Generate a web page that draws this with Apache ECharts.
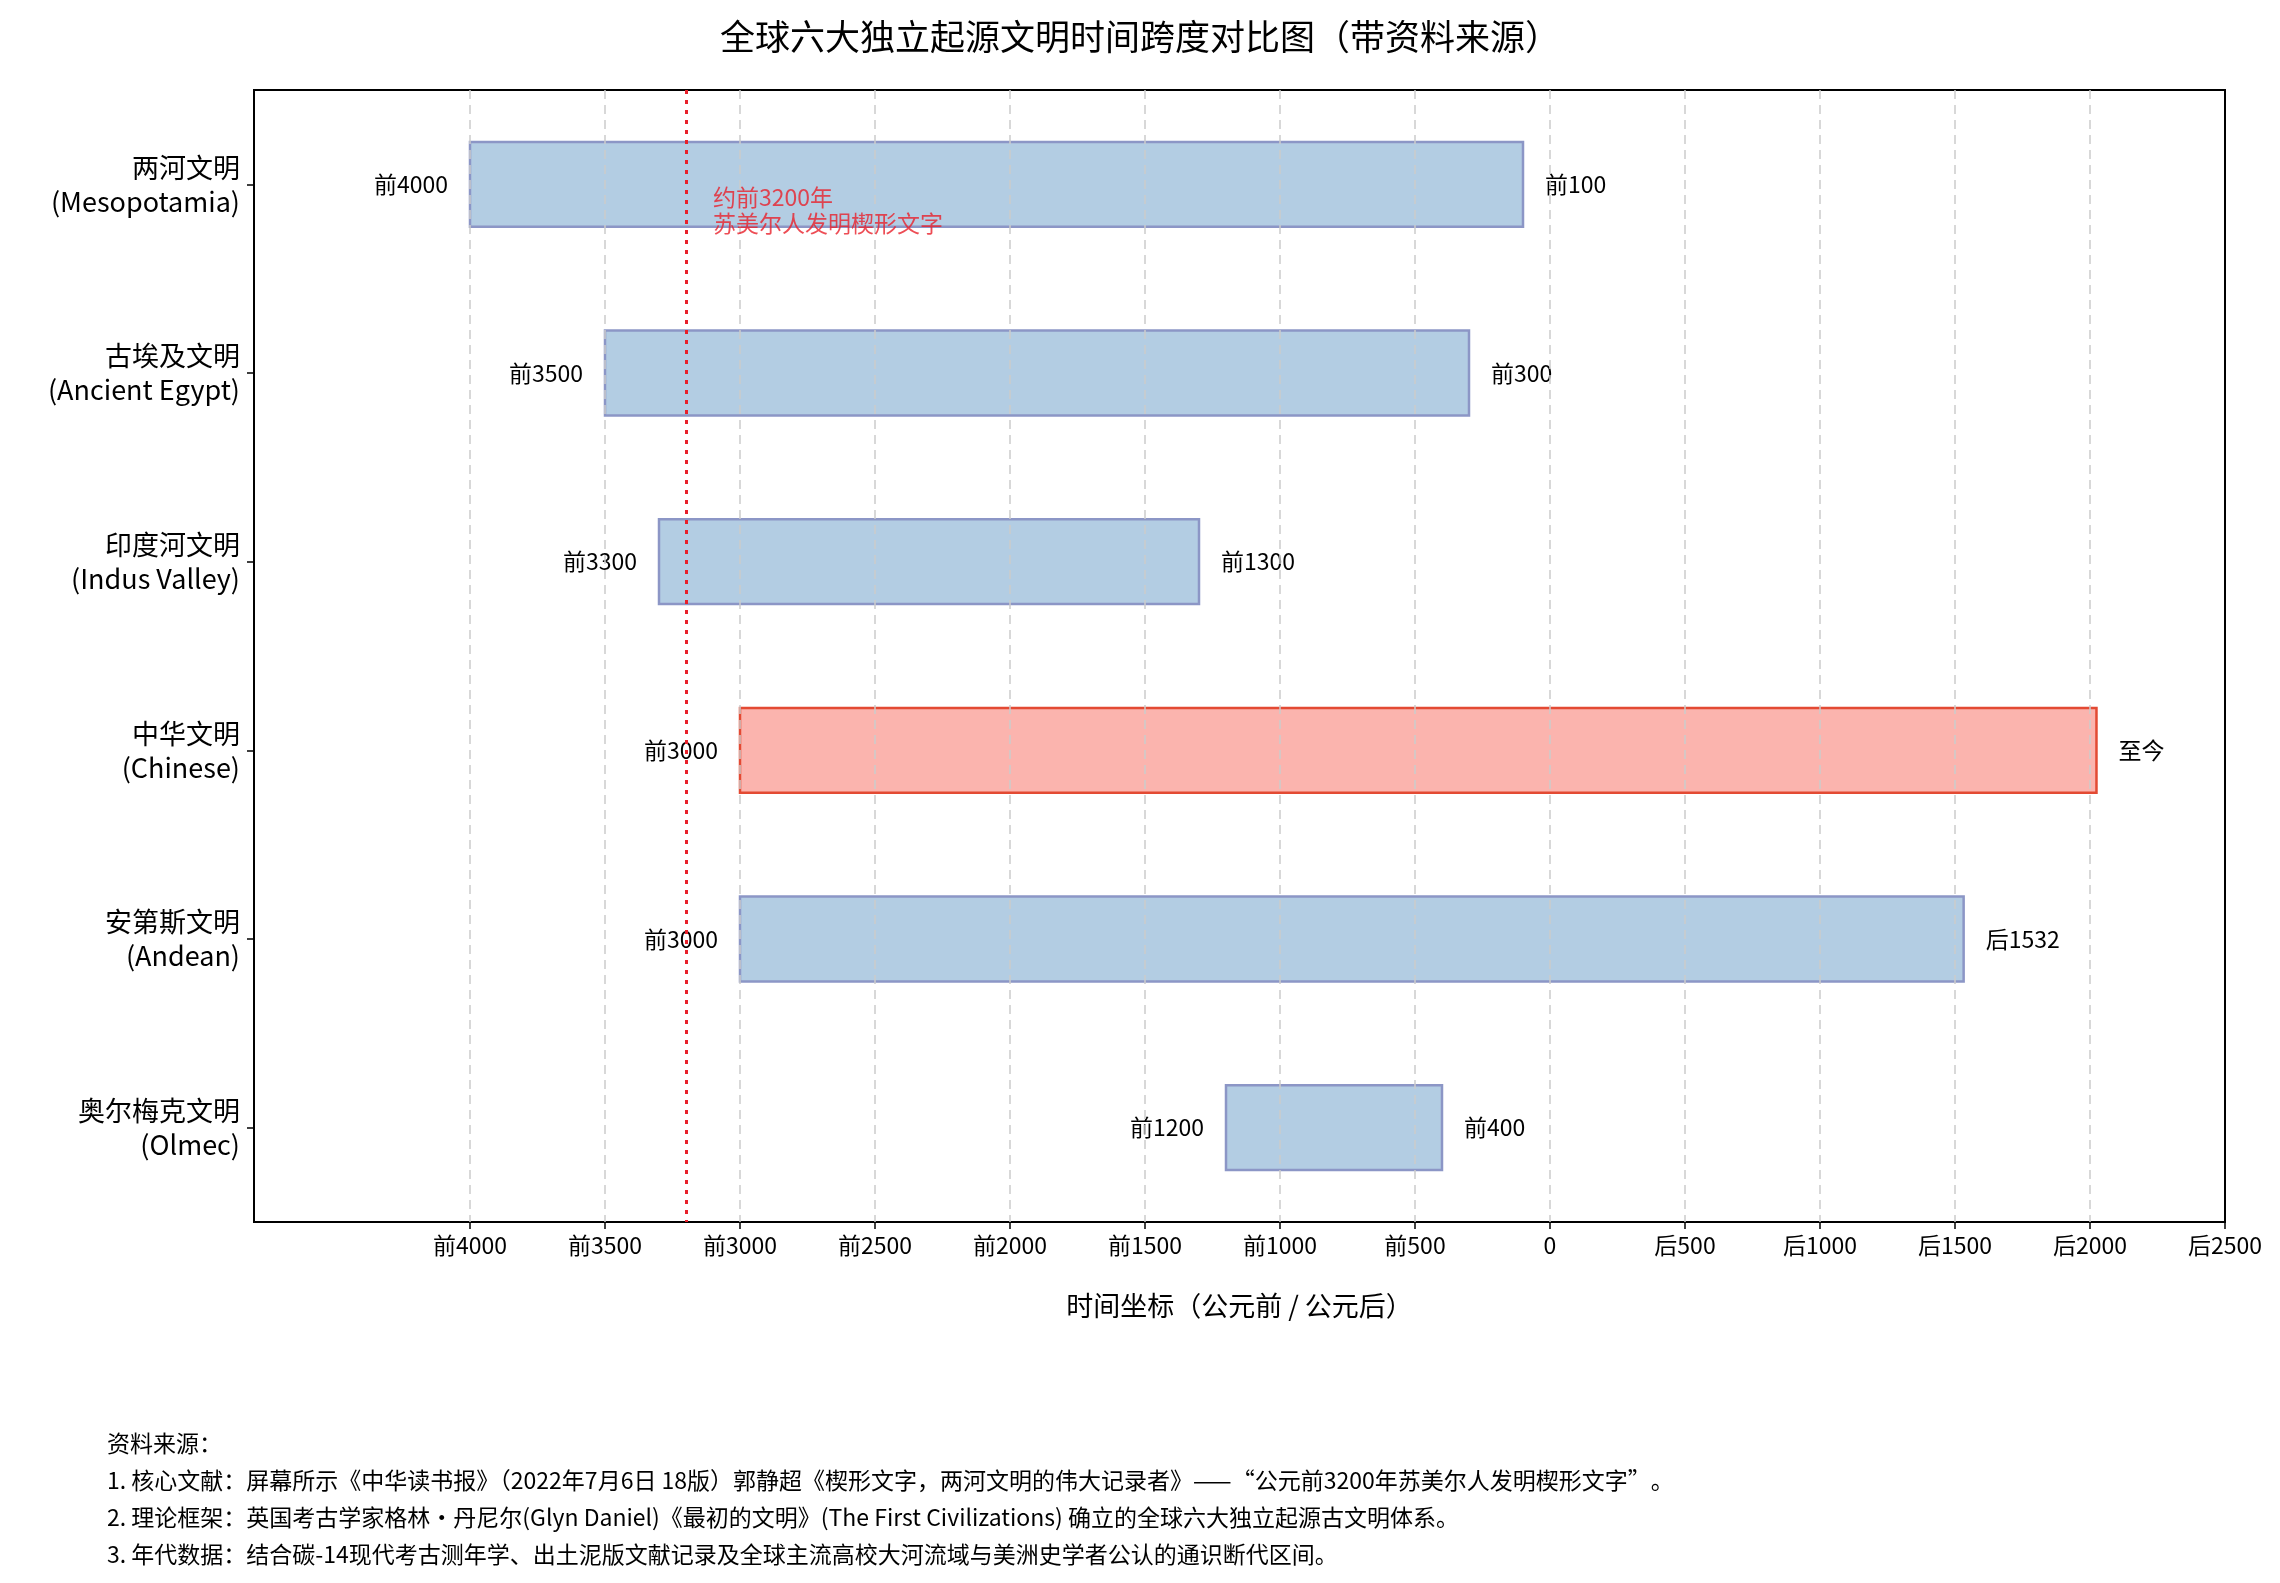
<!DOCTYPE html>
<html><head><meta charset="utf-8">
<script src="https://cdn.jsdelivr.net/npm/echarts@6/dist/echarts.min.js"></script>
<style>html,body{margin:0;background:#fff}#c{width:2280px;height:1583px}</style>
</head><body><div id="c"></div>
<script>
const civs = ['两河文明\n(Mesopotamia)', '古埃及文明\n(Ancient Egypt)', '印度河文明\n(Indus Valley)', '中华文明\n(Chinese)', '安第斯文明\n(Andean)', '奥尔梅克文明\n(Olmec)']
const starts = [-4000, -3500, -3300, -3000, -3000, -1200]
const ends = [-100, -300, -1300, 2024, 1532, -400]
const startLabels = ['前4000', '前3500', '前3300', '前3000', '前3000', '前1200']
const endLabels = ['前100', '前300', '前1300', '至今', '后1532', '前400']
const ticks = [-4000, -3500, -3000, -2500, -2000, -1500, -1000, -500, 0, 500, 1000, 1500, 2000, 2500]
const cuneiformYear = -3200
const notes = [
  '资料来源：',
  '1. 核心文献：屏幕所示《中华读书报》（2022年7月6日 18版）郭静超《楔形文字，两河文明的伟大记录者》——“公元前3200年苏美尔人发明楔形文字”。',
  '2. 理论框架：英国考古学家格林·丹尼尔(Glyn Daniel)《最初的文明》(The First Civilizations) 确立的全球六大独立起源古文明体系。',
  '3. 年代数据：结合碳-14现代考古测年学、出土泥版文献记录及全球主流高校大河流域与美洲史学者公认的通识断代区间。'
]
const font = '"Noto Sans CJK SC", "Noto Sans", sans-serif'
const fmt = v => v < 0 ? '前' + (-v) : v > 0 ? '后' + v : '0'

const chart = echarts.init(document.getElementById('c'))
chart.setOption({
  textStyle: { fontFamily: font },
  title: { text: '全球六大独立起源文明时间跨度对比图（带资料来源）', left: 'center', top: 14,
    textStyle: { fontSize: 35, fontWeight: 'normal', color: '#000', fontFamily: font } },
  grid: { left: 254, right: 55, top: 90, bottom: 361, show: true, borderColor: '#000', borderWidth: 2 },
  xAxis: {
    type: 'value', min: -4800, max: 2500,
    name: '时间坐标（公元前 / 公元后）', nameLocation: 'middle', nameGap: 70,
    nameTextStyle: { fontSize: 27, color: '#000' },
    axisLine: { show: true, lineStyle: { color: '#000', width: 2 } },
    axisTick: { show: true, customValues: ticks, length: 7, lineStyle: { color: '#000', width: 1.5 } },
    axisLabel: { customValues: ticks, formatter: fmt, fontSize: 23, color: '#000', margin: 12 },
    splitLine: { show: false }
  },
  yAxis: {
    type: 'category', data: civs, inverse: true,
    axisLine: { show: true, onZero: false, lineStyle: { color: '#000', width: 2 } },
    axisTick: { show: true, alignWithLabel: true, length: 7, lineStyle: { color: '#000', width: 1.5 } },
    axisLabel: { fontSize: 27, color: '#000', align: 'right', lineHeight: 34, margin: 14 }
  },
  series: [{
    type: 'custom',
    data: civs.map((c, i) => [i, starts[i], ends[i]]),
    encode: { x: [1, 2], y: 0 },
    renderItem(params, api) {
      const i = api.value(0)
      const p1 = api.coord([api.value(1), i])
      const p2 = api.coord([api.value(2), i])
      const h = api.size([0, 1])[1] * 0.45
      const hot = i === 3
      return { type: 'group', children: [
        { type: 'rect', shape: { x: p1[0], y: p1[1] - h / 2, width: p2[0] - p1[0], height: h },
          style: { fill: hot ? '#fbb4ae' : '#b3cde3', stroke: hot ? '#e34a33' : '#8c96c6', lineWidth: 2.5 } },
        { type: 'text', x: p1[0] - 22, y: p1[1],
          style: { text: startLabels[i], fontSize: 23, fill: '#000', align: 'right', verticalAlign: 'middle', fontFamily: font } },
        { type: 'text', x: p2[0] + 22, y: p2[1],
          style: { text: endLabels[i], fontSize: 23, fill: '#000', align: 'left', verticalAlign: 'middle', fontFamily: font } }
      ] }
    },
    markLine: {
      silent: true, symbol: 'none', animation: false,
      label: { show: false },
      data: [
        ...ticks.slice(0, -1).map(t => ({ xAxis: t, lineStyle: { color: '#cccccc', type: [9, 6], width: 1.5 } })),
        { xAxis: cuneiformYear, lineStyle: { color: '#e8202a', type: [4, 6], width: 3 } }
      ]
    },
    z: 3
  }, {
    type: 'scatter', symbolSize: 0, silent: true, z: 10,
    data: [[cuneiformYear + 100, 0.3]],
    label: { show: true, position: 'right', distance: 0, formatter: '约前3200年\n苏美尔人发明楔形文字',
      color: '#e8202a', fontSize: 23, lineHeight: 26, align: 'left', verticalAlign: 'top' }
  }],
  graphic: notes.map((t, k) => ({
    type: 'text', left: 107, top: 1432 + k * 37,
    style: { text: t, fontSize: 23, fill: '#000', fontFamily: font }
  }))
})
</script></body></html>
